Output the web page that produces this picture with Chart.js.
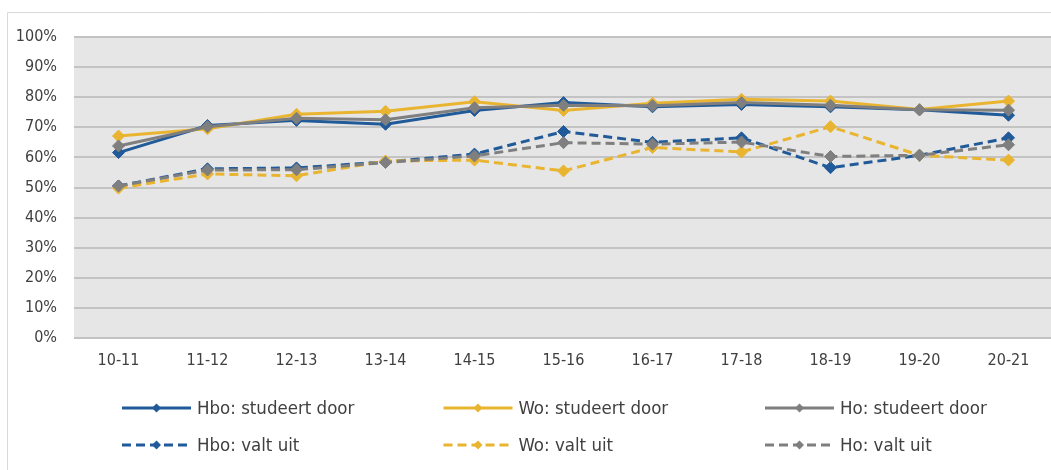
<!DOCTYPE html>
<html>
<head>
<meta charset="utf-8">
<script src="https://cdn.jsdelivr.net/npm/chart.js@4/dist/chart.umd.min.js"></script>
<style>
  html, body { margin: 0; padding: 0; background: #fff; overflow: hidden; width: 1051px; height: 470px; }
  #wrap { position: relative; width: 1060px; height: 470px; }
</style>
</head>
<body>
<div id="wrap"><canvas id="c" width="1060" height="470"></canvas></div>
<script>
// ---- data ----
const categories = ['10-11','11-12','12-13','13-14','14-15','15-16','16-17','17-18','18-19','19-20','20-21'];
const hboDoor = [61.6, 70.6, 72.3, 71.0, 75.6, 78.2, 76.8, 77.6, 76.8, 75.8, 74.0];
const woDoor  = [67.1, 69.5, 74.3, 75.3, 78.5, 75.6, 78.0, 79.3, 78.7, 75.9, 78.7];
const hoDoor  = [63.8, 70.2, 73.0, 72.5, 76.5, 77.3, 77.2, 78.2, 77.3, 75.8, 75.7];
const hboValt = [50.5, 56.2, 56.5, 58.5, 61.1, 68.6, 65.0, 66.5, 56.6, 60.7, 66.5];
const woValt  = [49.8, 54.5, 53.9, 58.8, 59.1, 55.5, 63.3, 61.8, 70.2, 60.7, 59.1];
const hoValt  = [50.5, 55.8, 55.9, 58.3, 60.5, 64.9, 64.4, 65.1, 60.3, 60.7, 64.2];
const seriesNames = ['Hbo: studeert door','Wo: studeert door','Ho: studeert door','Hbo: valt uit','Wo: valt uit','Ho: valt uit'];
const yTicks = [0,10,20,30,40,50,60,70,80,90,100];

// ---- styles ----
const BLUE = '#215a99', GOLD = '#e9b531', GREY = '#7f7f7f';
const FONT = "'DejaVu Sans Condensed','DejaVu Sans',sans-serif";
const TXT = '#404040';

function ds(label, data, color, dashed, idx) {
  return {
    label, data,
    borderColor: color, backgroundColor: color,
    borderWidth: 3,
    borderDash: dashed ? [9,5] : [],
    pointStyle: 'rectRot', pointRadius: 6, pointHoverRadius: 6,
    pointBorderWidth: 1, pointBackgroundColor: color, pointBorderColor: color,
    tension: 0, fill: false,
    order: 6 - idx
  };
}

const frame = {
  id: 'frame',
  beforeDraw(chart) {
    const ctx = chart.ctx, a = chart.chartArea;
    ctx.save();
    ctx.fillStyle = '#fff';
    ctx.fillRect(0, 0, chart.width, chart.height);
    ctx.strokeStyle = '#d9d9d9'; ctx.lineWidth = 1;
    ctx.beginPath();
    ctx.moveTo(7.5, chart.height); ctx.lineTo(7.5, 12.5); ctx.lineTo(chart.width, 12.5);
    ctx.stroke();
    ctx.fillStyle = '#e6e6e6';
    ctx.fillRect(a.left, a.top, a.right - a.left, a.bottom - a.top);
    ctx.restore();
  }
};

const customLegend = {
  id: 'customLegend',
  afterDraw(chart) {
    const ctx = chart.ctx;
    ctx.save();
    chart.data.datasets.forEach((d, i) => {
      const col = i % 3, row = Math.floor(i / 3);
      const x0 = 122 + col * 321.5, y = 408 + row * 37;
      const w = 69;
      ctx.strokeStyle = d.borderColor; ctx.lineWidth = 3;
      ctx.setLineDash(d.borderDash || []);
      ctx.beginPath(); ctx.moveTo(x0, y); ctx.lineTo(x0 + w, y); ctx.stroke();
      ctx.setLineDash([]);
      const cx = x0 + w / 2, r = 4.5;
      ctx.fillStyle = d.borderColor;
      ctx.beginPath();
      ctx.moveTo(cx - r, y); ctx.lineTo(cx, y - r); ctx.lineTo(cx + r, y); ctx.lineTo(cx, y + r);
      ctx.closePath(); ctx.fill();
      ctx.fillStyle = TXT;
      ctx.font = '18.5px ' + FONT;
      ctx.textBaseline = 'middle'; ctx.textAlign = 'left';
      ctx.fillText(d.label, x0 + w + 6, y + 1);
    });
    ctx.restore();
  }
};

new Chart(document.getElementById('c'), {
  type: 'line',
  data: {
    labels: categories,
    datasets: [
      ds(seriesNames[0], hboDoor, BLUE, false, 0),
      ds(seriesNames[1], woDoor, GOLD, false, 1),
      ds(seriesNames[2], hoDoor, GREY, false, 2),
      ds(seriesNames[3], hboValt, BLUE, true, 3),
      ds(seriesNames[4], woValt, GOLD, true, 4),
      ds(seriesNames[5], hoValt, GREY, true, 5)
    ]
  },
  options: {
    responsive: false,
    animation: false,
    devicePixelRatio: 1,
    layout: { padding: { top: 37, right: 5, left: 0, bottom: 0 } },
    plugins: { legend: { display: false }, tooltip: { enabled: false } },
    scales: {
      x: {
        offset: true,
        grid: { display: false, drawTicks: false },
        border: { display: false },
        ticks: { color: TXT, font: { family: FONT, size: 16 }, padding: 13, maxRotation: 0, autoSkip: false },
        afterFit(scale) { scale.height = 132; }
      },
      y: {
        min: 0, max: 100,
        afterBuildTicks(scale) { scale.ticks = yTicks.map(v => ({ value: v })); },
        grid: { color: '#c3c3c3', lineWidth: 2, drawTicks: false },
        border: { display: false },
        ticks: { color: TXT, font: { family: FONT, size: 16 }, padding: 17, callback: v => v + '%' },
        afterFit(scale) { scale.width = 74; }
      }
    }
  },
  plugins: [frame, customLegend]
});
</script>
</body>
</html>
